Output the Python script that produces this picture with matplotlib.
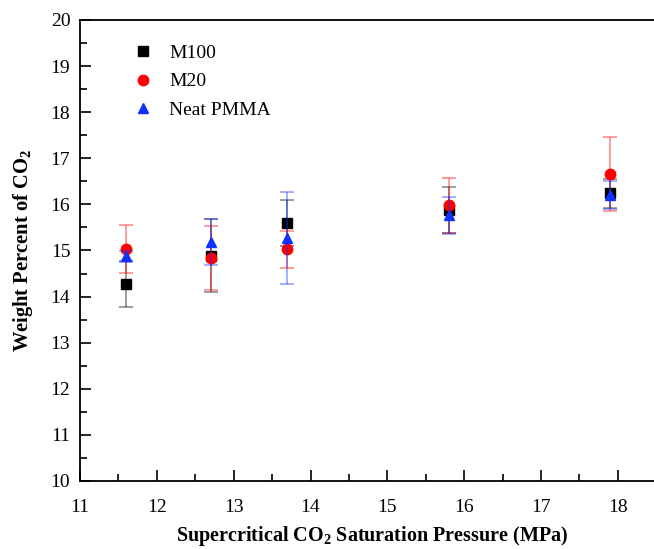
import matplotlib
matplotlib.use("Agg")
import matplotlib.pyplot as plt
from matplotlib.ticker import FixedLocator, MultipleLocator

pressure = [11.6, 12.7, 13.7, 15.8, 17.9]

m100 = [14.28, 14.89, 15.60, 15.88, 16.24]
m100_err = [0.50, 0.80, 0.50, 0.50, 0.32]

m20 = [15.03, 14.84, 15.03, 15.98, 16.66]
m20_err = [0.52, 0.70, 0.40, 0.60, 0.80]

neat = [14.87, 15.18, 15.27, 15.76, 16.21]
neat_err = [0.12, 0.50, 1.00, 0.40, 0.30]

x_ticks = [11, 12, 13, 14, 15, 16, 17, 18]

plt.rcParams.update({
    "font.family": "Liberation Serif",
    "font.size": 14,
    "mathtext.fontset": "custom",
    "mathtext.rm": "Liberation Serif",
    "mathtext.bf": "Liberation Serif:bold",
})

fig = plt.figure(figsize=(6.54, 5.49), dpi=100)
# the right part of the axes runs past the figure edge, as in the source image
ax = fig.add_axes([0.1223, 0.1239, 0.940, 0.8397])

series = (
    (m100, m100_err, "s", "black", "M100"),
    (m20, m20_err, "o", "red", "M20"),
    (neat, neat_err, "^", "#1030ff", "Neat PMMA"),
)
for vals, errs, marker, color, label in series:
    ax.errorbar(pressure, vals, yerr=errs, fmt="none", ecolor=color,
                alpha=0.45, elinewidth=1.2, capsize=5, capthick=1.2)
    ax.plot(pressure, vals, linestyle="none", marker=marker, color=color,
            markersize=7.5, label=label)

ax.set_xlim(11, 19)
ax.set_ylim(10, 20)
ax.xaxis.set_major_locator(FixedLocator(x_ticks))
ax.xaxis.set_minor_locator(FixedLocator([t + 0.5 for t in x_ticks]))
ax.yaxis.set_major_locator(MultipleLocator(1))
ax.yaxis.set_minor_locator(MultipleLocator(0.5))
ax.tick_params(which="both", direction="in", top=False, right=False, width=1.2)
ax.tick_params(which="major", length=8, pad=7)
ax.tick_params(axis="x", which="major", pad=13)
ax.tick_params(which="minor", length=5)
for sp in ax.spines.values():
    sp.set_linewidth(1.3)

ax.set_xlabel(r"Supercritical CO$_\mathbf{2}$ Saturation Pressure (MPa)",
              fontweight="bold", fontsize=14.5)
ax.xaxis.set_label_coords(0.475, -0.094)
ax.set_ylabel(r"Weight Percent of CO$_\mathbf{2}$", fontweight="bold",
              fontsize=14.8, labelpad=11)

ax.legend(loc="upper left", bbox_to_anchor=(0.05, 0.985), frameon=False,
          handletextpad=0.6, labelspacing=0.55, fontsize=14, handlelength=1.5)

fig.savefig("out.png", dpi=100, facecolor="white")
